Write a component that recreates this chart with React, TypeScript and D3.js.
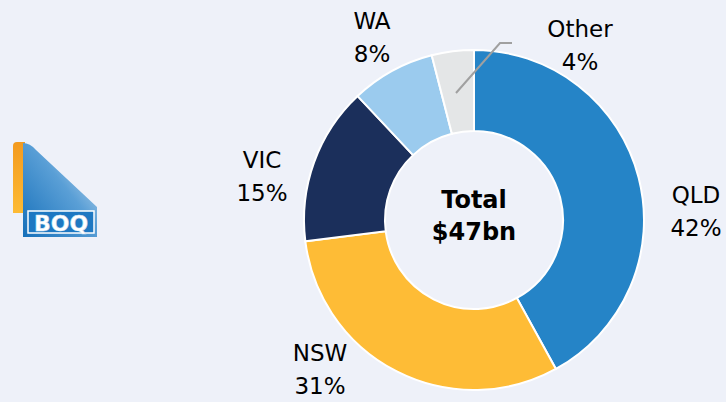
import React from "react";
import * as d3 from "d3";

const categories = ["QLD", "NSW", "VIC", "WA", "Other"];
const values = [42, 31, 15, 8, 4];
const colors = ["#2584C7", "#FEBC36", "#1B2F5B", "#9BCBEE", "#E4E6E7"];
const labelPos: [number, number][] = [
  [696, 203],
  [320, 361],
  [262, 168],
  [372, 29],
  [580, 37],
];

export default function App() {
  const W = 726, H = 402;
  const cx = 474, cy = 220, R = 170, r = 89;
  const pie = d3.pie<number>().sort(null).value((d) => d)(values);
  const arc = d3.arc<d3.PieArcDatum<number>>().innerRadius(r).outerRadius(R);
  const font = "Tahoma, 'DejaVu Sans', sans-serif";
  return (
    <svg width={W} height={H} style={{ position: "absolute", left: 0, top: 0, background: "#EEF1F9" }}>
      <defs>
        <linearGradient id="orng" x1="0" y1="0" x2="0" y2="1">
          <stop offset="0" stopColor="#F39A1E" />
          <stop offset="1" stopColor="#FDBB35" />
        </linearGradient>
        <linearGradient id="blu" x1="1" y1="0" x2="0" y2="1">
          <stop offset="0" stopColor="#DCEAF6" />
          <stop offset="0.45" stopColor="#5A9FD6" />
          <stop offset="1" stopColor="#1670BA" />
        </linearGradient>
      </defs>
      <rect width={W} height={H} fill="#EEF1F9" />
      {/* logo */}
      <path d="M13,146 Q13,142 17,142 L25,142 L25,213 L13,213 Z" fill="url(#orng)" />
      <path d="M23,143 Q30,143 36,150 L97,207 L97,237 L23,237 Z" fill="url(#blu)" />
      <rect x={28} y={211} width={66} height={22} fill="#1E78C2" stroke="#FFFFFF" strokeWidth={1.5} />
      <text x={61} y={231} textAnchor="middle" fontFamily={font} fontWeight="bold" fontSize={22} fill="#FFFFFF" stroke="#CFE0F0" strokeWidth={0.5}>
        BOQ
      </text>
      <g transform={`translate(${cx},${cy})`}>
        {pie.map((p, i) => (
          <path key={categories[i]} d={arc(p) || ""} fill={colors[i]} stroke="#FFFFFF" strokeWidth={2} />
        ))}
      </g>
      <polyline points="456,93 500,43 512,43" fill="none" stroke="#A0A0A0" strokeWidth={2} />
      {categories.map((c, i) => (
        <text key={c} x={labelPos[i][0]} y={labelPos[i][1]} textAnchor="middle" fontFamily={font} fontSize={23} fill="#000">
          <tspan x={labelPos[i][0]}>{c}</tspan>
          <tspan x={labelPos[i][0]} dy={33}>{values[i]}%</tspan>
        </text>
      ))}
      <text x={cx} y={208} textAnchor="middle" fontFamily={font} fontWeight="bold" fontSize={24} fill="#000">
        <tspan x={cx}>Total</tspan>
        <tspan x={cx} dy={32}>$47bn</tspan>
      </text>
    </svg>
  );
}
